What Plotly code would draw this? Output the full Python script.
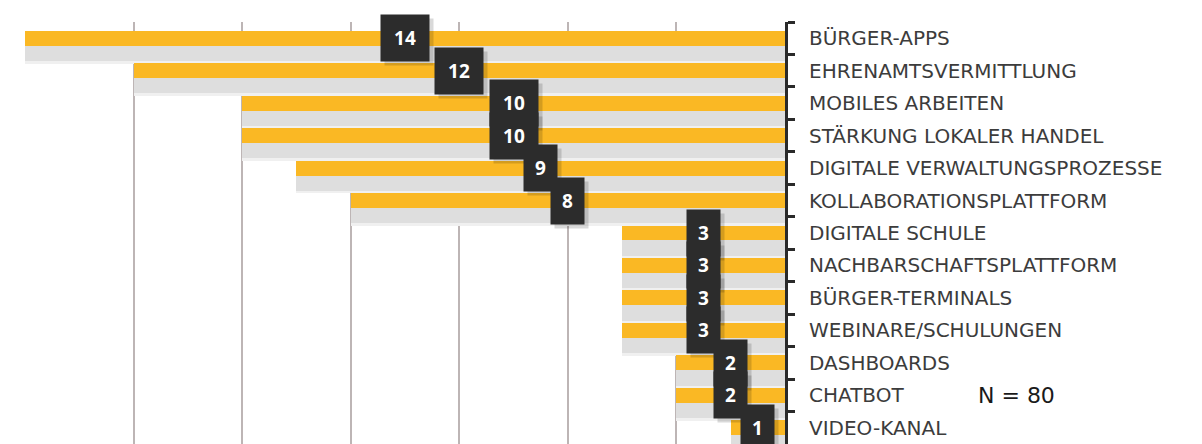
import plotly.graph_objects as go

categories = [
    "BÜRGER-APPS", "EHRENAMTSVERMITTLUNG", "MOBILES ARBEITEN",
    "STÄRKUNG LOKALER HANDEL", "DIGITALE VERWALTUNGSPROZESSE",
    "KOLLABORATIONSPLATTFORM", "DIGITALE SCHULE", "NACHBARSCHAFTSPLATTFORM",
    "BÜRGER-TERMINALS", "WEBINARE/SCHULUNGEN", "DASHBOARDS", "CHATBOT",
    "VIDEO-KANAL",
]
values = [14, 12, 10, 10, 9, 8, 3, 3, 3, 3, 2, 2, 1]
sample_note = "N = 80"
x_max = 14
grid_step = 2

BAR = "#FAB824"
SHADOW = "#dedede"
SHADOW_SOFT = "#f0f0f0"
BOX = "#2c2c2c"

fig = go.Figure()

# soft shadow
fig.add_trace(go.Bar(
    x=values, y=categories, orientation="h",
    marker=dict(color=SHADOW_SOFT, line=dict(width=0)),
    width=0.80, offset=-0.02, hoverinfo="skip", showlegend=False,
))
# shadow core
fig.add_trace(go.Bar(
    x=values, y=categories, orientation="h",
    marker=dict(color=SHADOW, line=dict(width=0)),
    width=0.70, offset=0.0, hoverinfo="skip", showlegend=False,
))
# main bars
fig.add_trace(go.Bar(
    x=values, y=categories, orientation="h",
    marker=dict(color=BAR, line=dict(width=0)),
    width=0.46, offset=-0.23, showlegend=False,
))

annotations = []
# label box shadows
for c, v in zip(categories, values):
    w = 16 + 15 * len(str(v))
    annotations.append(dict(
        x=v / 2, y=c, xref="x", yref="y", text=" ", showarrow=False,
        bgcolor="rgba(0,0,0,0.15)", width=w, height=44,
        xshift=4, yshift=-4, font=dict(size=17),
    ))
# label boxes
for c, v in zip(categories, values):
    w = 16 + 15 * len(str(v))
    annotations.append(dict(
        x=v / 2, y=c, xref="x", yref="y", text="<b>%d</b>" % v,
        showarrow=False, bgcolor=BOX, width=w, height=44,
        font=dict(family="Open Sans", size=19, color="white"),
        valign="middle", align="center",
    ))
annotations.append(dict(
    x=1.305, y="CHATBOT", xref="paper", yref="y", text=sample_note,
    showarrow=False, xanchor="center",
    font=dict(family="DejaVu Sans", size=22, color="#1a1a1a"),
))

# page has an 8px body margin: compensate so the plot area lands at
# x 25..785, y 22..444 in the photographed window
fig.update_layout(
    width=1202, height=444,
    margin=dict(l=17, r=425, t=14, b=8, autoexpand=False),
    paper_bgcolor="white", plot_bgcolor="white",
    barmode="overlay", bargap=0,
    annotations=annotations,
    xaxis=dict(
        range=[x_max, 0], dtick=grid_step, tick0=0,
        showgrid=True, gridcolor="#bdb5b5", gridwidth=2,
        showticklabels=False, zeroline=False, showline=False, ticks="",
        fixedrange=True,
    ),
    yaxis=dict(
        side="right", categoryorder="array", categoryarray=categories,
        range=[len(categories) - 0.5, -0.5],
        showline=True, linecolor="#2a2a2a", linewidth=3,
        ticks="outside", ticklen=7, tickwidth=3, tickcolor="#2a2a2a",
        tickson="boundaries", ticklabelstandoff=17,
        tickfont=dict(family="DejaVu Sans", size=20, color="#3c3c3c"),
        showgrid=False, zeroline=False, automargin=False,
    ),
)

fig.write_html("out.html")
